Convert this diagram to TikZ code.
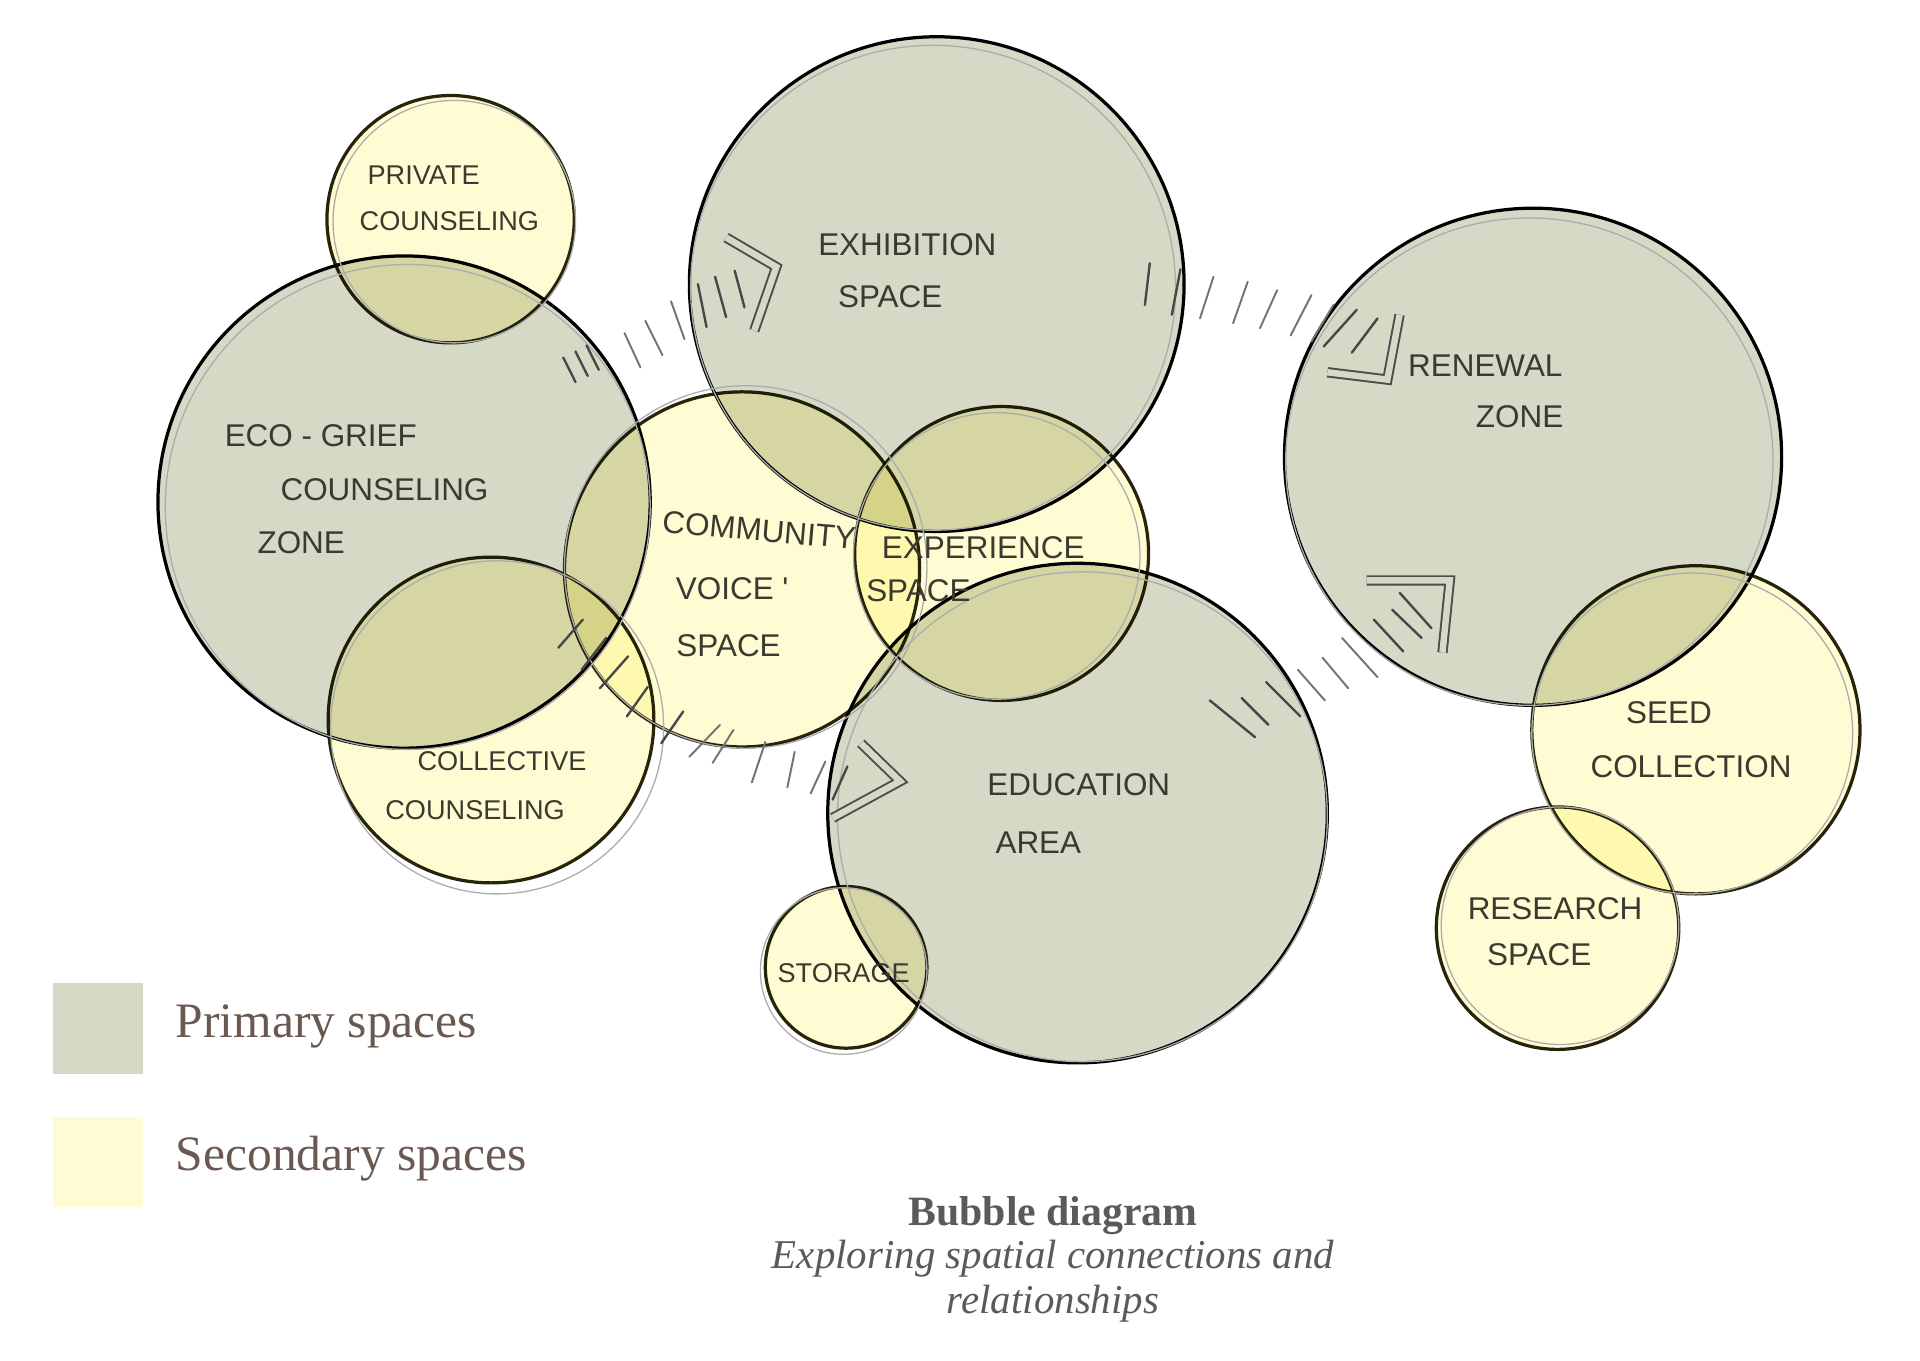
\documentclass[tikz,border=0pt]{standalone}
\usepackage{fontspec}
\setmainfont{Liberation Serif}
\newfontfamily\handfont{Liberation Sans}
\usetikzlibrary{positioning}

\definecolor{primfill}{HTML}{D5D9C6}
\definecolor{secfill}{HTML}{FFFCD4}
\definecolor{rimdark}{HTML}{26250C}
\definecolor{inkdark}{HTML}{3A3A30}
\definecolor{legtext}{HTML}{6B5850}
\definecolor{captext}{HTML}{5A5A5A}

\tikzset{
  primary/.style={fill=primfill, draw=black, line width=0.75pt},
  secondary/.style={fill=secfill, draw=rimdark, line width=0.75pt},
  pencil/.style={draw=gray!65, line width=0.3pt},
  lbl/.style={font=\handfont\fontsize{7.3}{8}\selectfont, text=inkdark},
  lblsmall/.style={font=\handfont\fontsize{6.3}{7}\selectfont, text=inkdark},
  legend/.style={font=\fontsize{11.5}{13}\selectfont, text=legtext, inner sep=0pt},
  hatchin/.style={draw=black!72, line width=0.55pt, line cap=round},
  hatchout/.style={draw=black!55, line width=0.45pt, line cap=round},
  chev/.style={draw=black!70, line width=0.45pt, double=primfill, double distance=1.5pt},
}

\begin{document}
\begin{tikzpicture}[x=0.01cm, y=-0.01cm]
  \useasboundingbox (0,0) rectangle (1568,1111);

  % bubble centres
  \coordinate (eco)  at (330,410);
  \coordinate (exh)  at (765,232);
  \coordinate (edu)  at (880,664);
  \coordinate (ren)  at (1252,373);
  \coordinate (priv) at (368,179);
  \coordinate (comm) at (606,465);
  \coordinate (expe) at (818,452);
  \coordinate (coll) at (401,588);
  \coordinate (stor) at (691,790);
  \coordinate (seed) at (1385,596);
  \coordinate (res)  at (1272,758);

  % primary spaces
  \draw[primary] (eco) circle (201);
  \draw[primary] (exh) circle (202);
  \draw[primary] (edu) circle (204);
  \draw[primary] (ren) circle (203);

  % secondary spaces, laid over
  \begin{scope}[blend mode=multiply]
    \draw[secondary] (priv) circle (101);
    \draw[secondary] (comm) circle (145);
    \draw[secondary] (expe) circle (120);
    \draw[secondary] (coll) circle (133);
    \draw[secondary] (stor) circle (66);
    \draw[secondary] (seed) circle (134);
    \draw[secondary] (res)  circle (99);
  \end{scope}

  % pencil under-drawing
  \foreach \c/\r/\dx/\dy in {eco/198/3/4, exh/198/-3/3, edu/200/4/3, ren/199/-3/4,
      priv/99/3/2, comm/148/3/-2, expe/117/-4/2, coll/136/5/6, stor/68/-2/3,
      seed/131/-3/3, res/97/2/-2}
    \draw[pencil] ([shift={(\dx,\dy)}]\c) circle[radius=\r];

  % links: hatching
  \foreach \xa/\ya/\xb/\yb in {570/232/577/267, 584/226/593/259, 600/221/608/251,
      460/292/470/312, 470/287/480/307, 479/282/489/302,
      939/215/935/249, 964/220/957/257, 1108/253/1081/283, 1125/260/1104/288,
      1143/484/1169/513, 1137/498/1161/521, 1122/506/1146/532,
      1034/557/1062/585, 1014/570/1036/592, 988/572/1025/602,
      476/506/456/529, 495/521/475/547, 513/536/490/562, 529/561/512/585,
      558/581/540/607, 692/626/680/653}
    \draw[hatchin] (\xa,\ya) -- (\xb,\yb);
  \foreach \xa/\ya/\xb/\yb in {510/272/523/300, 527/262/541/290, 548/246/559/277,
      991/226/980/260, 1019/230/1007/264, 1043/237/1029/268, 1071/241/1054/274,
      1089/249/1071/279,
      1096/521/1125/553, 1080/537/1101/562, 1060/547/1082/572,
      588/592/563/618, 599/596/582/623, 625/606/614/639, 649/614/643/643,
      674/622/662/648}
    \draw[hatchout] (\xa,\ya) -- (\xb,\yb);

  % arrows
  \draw[chev] (593,194) -- (634,218) -- (616,270);
  \draw[chev] (1143,257) -- (1133,310) -- (1084,304);
  \draw[chev] (1116,474) -- (1184,474) -- (1178,533);
  \draw[chev] (703,607) -- (735,638) -- (680,668);

  % labels
  \node[lblsmall] (priv-a) at (346,143) {PRIVATE};
  \node[lblsmall] (priv-b) at (367,181) {COUNSELING};
  \node[lbl] (exh-a) at (741,200) {EXHIBITION};
  \node[lbl] (exh-b) at (727,242) {SPACE};
  \node[lbl] (eco-a) at (262,356) {ECO - GRIEF};
  \node[lbl] (eco-b) at (314,400) {COUNSELING};
  \node[lbl] (eco-c) at (246,443) {ZONE};
  \node[lbl, rotate=-5] (comm-a) at (620,433) {COMMUNITY};
  \node[lbl] (comm-b) at (598,481) {VOICE '};
  \node[lbl] (comm-c) at (595,527) {SPACE};
  \node[lbl] (expe-a) at (803,447) {EXPERIENCE};
  \node[lbl] (expe-b) at (750,482) {SPACE};
  \node[lbl] (ren-a) at (1213,299) {RENEWAL};
  \node[lbl] (ren-b) at (1241,340) {ZONE};
  \node[lblsmall] (coll-a) at (410,622) {COLLECTIVE};
  \node[lblsmall] (coll-b) at (388,662) {COUNSELING};
  \node[lbl] (edu-a) at (881,641) {EDUCATION};
  \node[lbl] (edu-b) at (848,688) {AREA};
  \node[lblsmall] (stor-a) at (689,795) {STORAGE};
  \node[lbl] (seed-a) at (1363,582) {SEED};
  \node[lbl] (seed-b) at (1381,626) {COLLECTION};
  \node[lbl] (res-a) at (1270,742) {RESEARCH};
  \node[lbl] (res-b) at (1257,780) {SPACE};

  % key
  \node[fill=primfill, minimum size=0.74cm, inner sep=0pt] (key-prim) at (80,840) {};
  \node[fill=secfill, minimum size=0.74cm, inner sep=0pt] (key-sec) at (80,949) {};
  \node[legend, anchor=base west] (key-prim-t) at (143,847) {Primary spaces};
  \node[legend, anchor=base west] (key-sec-t) at (143,956) {Secondary spaces};

  % caption
  \node[font=\bfseries\fontsize{9.7}{11}\selectfont, text=captext] (cap-title) at (860,993) {Bubble diagram};
  \node[font=\itshape\fontsize{9.5}{10.5}\selectfont, text=captext, align=center] (cap-sub) at (860,1046)
    {Exploring spatial connections and\\relationships};
\end{tikzpicture}
\end{document}
